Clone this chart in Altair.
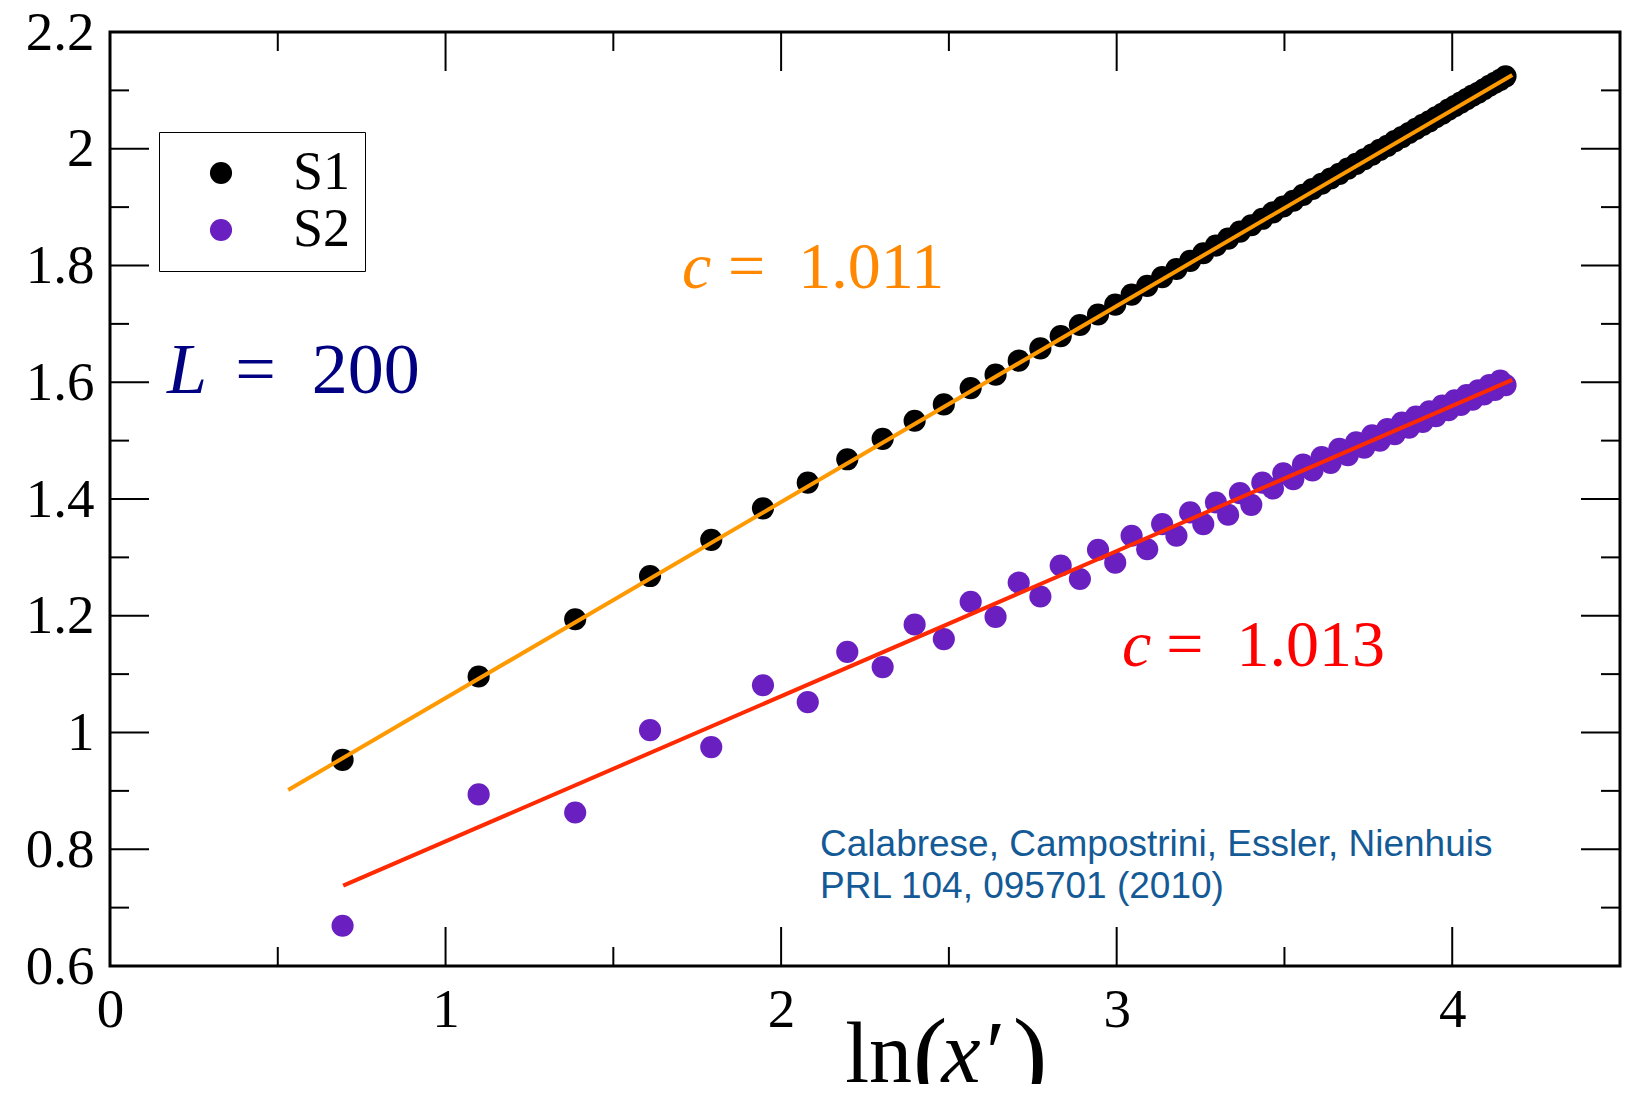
import altair as alt
import pandas as pd

# x positions: ln(x') for x' = 2 .. 64
x_ln = [0.6931, 1.0986, 1.3863, 1.6094, 1.7918, 1.9459, 2.0794, 2.1972, 2.3026, 2.3979,
        2.4849, 2.5649, 2.6391, 2.7081, 2.7726, 2.8332, 2.8904, 2.9444, 2.9957, 3.0445,
        3.0910, 3.1355, 3.1781, 3.2189, 3.2581, 3.2958, 3.3322, 3.3673, 3.4012, 3.4340,
        3.4657, 3.4965, 3.5264, 3.5553, 3.5835, 3.6109, 3.6376, 3.6636, 3.6889, 3.7136,
        3.7377, 3.7612, 3.7842, 3.8067, 3.8286, 3.8501, 3.8712, 3.8918, 3.9120, 3.9318,
        3.9512, 3.9703, 3.9890, 4.0073, 4.0254, 4.0431, 4.0604, 4.0775, 4.0943, 4.1109,
        4.1271, 4.1431, 4.1589]

s1_vals = [0.953, 1.096, 1.194, 1.268, 1.330, 1.384, 1.428, 1.468, 1.503, 1.534,
           1.562, 1.590, 1.613, 1.637, 1.658, 1.679, 1.698, 1.716, 1.733, 1.750,
           1.765, 1.780, 1.794, 1.808, 1.821, 1.834, 1.846, 1.858, 1.869, 1.880,
           1.891, 1.901, 1.911, 1.921, 1.931, 1.940, 1.949, 1.957, 1.966, 1.974,
           1.982, 1.990, 1.998, 2.005, 2.013, 2.020, 2.027, 2.034, 2.041, 2.047,
           2.054, 2.060, 2.067, 2.073, 2.079, 2.085, 2.091, 2.096, 2.102, 2.108,
           2.113, 2.118, 2.124]

s2_vals = [0.669, 0.894, 0.863, 1.004, 0.975, 1.081, 1.052, 1.138, 1.112, 1.185,
           1.160, 1.224, 1.198, 1.257, 1.233, 1.286, 1.263, 1.313, 1.291, 1.337,
           1.314, 1.357, 1.337, 1.377, 1.357, 1.394, 1.373, 1.410, 1.390, 1.428,
           1.418, 1.444, 1.434, 1.459, 1.449, 1.472, 1.462, 1.486, 1.475, 1.497,
           1.488, 1.509, 1.500, 1.520, 1.511, 1.531, 1.522, 1.541, 1.532, 1.550,
           1.542, 1.560, 1.552, 1.569, 1.561, 1.578, 1.570, 1.586, 1.579, 1.595,
           1.587, 1.603, 1.595]

series_names = ["S1", "S2"]
series_colors = ["#000000", "#6A1FC0"]

fit1_x = [0.531, 4.179]
fit1_y = [0.9015, 2.1265]
fit2_x = [0.695, 4.179]
fit2_y = [0.7376, 1.604]

x_major = [1, 2, 3, 4]
x_minor = [0.5, 1.5, 2.5, 3.5]
y_major = [0.6, 0.8, 1.0, 1.2, 1.4, 1.6, 1.8, 2.0, 2.2]
y_minor = [0.7, 0.9, 1.1, 1.3, 1.5, 1.7, 1.9, 2.1]
x_labels = [0, 1, 2, 3, 4]

W, H = 1510, 934
SERIF = "Liberation Serif"

pts_df = pd.concat([
    pd.DataFrame({"x": x_ln, "y": s1_vals, "series": "S1"}),
    pd.DataFrame({"x": x_ln, "y": s2_vals, "series": "S2"}),
])

xscale = alt.Scale(domain=[0, 4.5], nice=False, zero=False)
yscale = alt.Scale(domain=[0.6, 2.2], nice=False, zero=False)

points = alt.Chart(pts_df).mark_circle(size=490, opacity=1).encode(
    x=alt.X("x:Q", scale=xscale, axis=alt.Axis(
        values=x_labels, format="~g", labelFont=SERIF, labelFontSize=55,
        labelColor="black", labelPadding=17, labelFlush=False, labelOverlap=False,
        ticks=False, tickSize=0, domain=False, grid=False, title=None)),
    y=alt.Y("y:Q", scale=yscale, axis=alt.Axis(
        values=y_major, format="~g", labelFont=SERIF, labelFontSize=55,
        labelColor="black", labelPadding=16, labelFlush=False, labelOverlap=False,
        ticks=False, tickSize=0, domain=False, grid=False, title=None)),
    color=alt.Color("series:N", scale=alt.Scale(domain=series_names, range=series_colors),
                    legend=alt.Legend(
                        title=None, orient="none", legendX=49, legendY=100,
                        strokeColor="black", padding=14, symbolType="circle",
                        symbolSize=490, symbolStrokeWidth=0, symbolOpacity=1,
                        symbolOffset=21, labelOffset=45, labelFont=SERIF,
                        labelFontSize=54, labelColor="black", rowPadding=3)),
)

line1 = alt.Chart(pd.DataFrame({"x": fit1_x, "y": fit1_y})).mark_line(
    color="#FF9900", strokeWidth=4).encode(x="x:Q", y="y:Q")
line2 = alt.Chart(pd.DataFrame({"x": fit2_x, "y": fit2_y})).mark_line(
    color="#FF2A00", strokeWidth=4).encode(x="x:Q", y="y:Q")

def yticks(vals, length):
    df = pd.DataFrame({"y": vals})
    left = alt.Chart(df).mark_rule(color="black", strokeWidth=2).encode(
        y="y:Q", x=alt.value(0), x2=alt.value(length))
    right = alt.Chart(df).mark_rule(color="black", strokeWidth=2).encode(
        y="y:Q", x=alt.value(W), x2=alt.value(W - length))
    return [left, right]

def xticks(vals, length):
    df = pd.DataFrame({"x": vals})
    bottom = alt.Chart(df).mark_rule(color="black", strokeWidth=2).encode(
        x="x:Q", y=alt.value(H), y2=alt.value(H - length))
    top = alt.Chart(df).mark_rule(color="black", strokeWidth=2).encode(
        x="x:Q", y=alt.value(0), y2=alt.value(length))
    return [bottom, top]

ticks = yticks(y_major, 39) + yticks(y_minor, 19) + xticks(x_major, 39) + xticks(x_minor, 19)

def label(xv, yv, text, color, size, style="normal", font=SERIF):
    df = pd.DataFrame({"x": [xv], "y": [yv], "t": [text]})
    return alt.Chart(df).mark_text(align="left", baseline="alphabetic", font=font,
                                   fontSize=size, fontStyle=style, color=color).encode(
        x="x:Q", y="y:Q", text="t:N")

def title_part(xv, text, size, style="normal", ypx=1050):
    df = pd.DataFrame({"x": [xv], "t": [text]})
    return alt.Chart(df).mark_text(align="left", baseline="alphabetic", font=SERIF,
                                   fontSize=size, fontStyle=style, color="black").encode(
        x="x:Q", y=alt.value(ypx), text="t:N")

texts = [
    label(1.705, 1.7615, "c", "#FF8800", 66, "italic"),
    label(1.842, 1.7615, "=\u20021.011", "#FF8800", 66),
    label(3.016, 1.114, "c", "#FF0000", 66, "italic"),
    label(3.148, 1.114, "=\u20021.013", "#FF0000", 66),
    label(0.170, 1.582, "L", "#000080", 72, "italic"),
    label(0.373, 1.582, "=\u2002200", "#000080", 72),
    label(2.116, 0.788, "Calabrese, Campostrini, Essler, Nienhuis", "#145A96", 37, font="Liberation Sans"),
    label(2.116, 0.7165, "PRL 104, 095701 (2010)", "#145A96", 37, font="Liberation Sans"),
    # x-axis title  ln(x′)
    title_part(2.191, "ln", 86),
    title_part(2.392, "(", 104, ypx=1058),
    title_part(2.478, "x′", 88, "italic"),
    title_part(2.690, ")", 104, ypx=1058),
]

chart = alt.layer(points, line1, line2, *ticks, *texts).properties(
    width=W, height=H,
    padding={"left": 102, "top": 24, "right": 2, "bottom": 118},
    autosize=alt.AutoSizeParams(type="none"),
    background="white",
).configure_view(stroke="black", strokeWidth=3)

chart.save("out.html", embed_options={"renderer": "svg", "actions": False})
